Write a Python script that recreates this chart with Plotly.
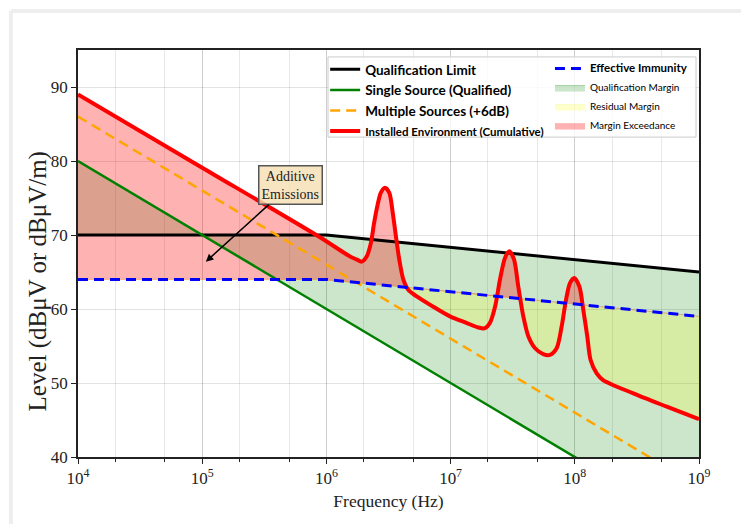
import numpy as np
import plotly.graph_objects as go

# ---------------- data ----------------
limit_freq = [1e4, 1e6, 1e9]
limit_level = [70, 70, 65]

immunity_freq = [1e4, 1e6, 1e9]
immunity_level = [64, 64, 59]

single_freq = [1e4, 1e9]
single_level = [80, 30]

multiple_freq = [1e4, 1e9]
multiple_level = [86, 36]

installed_freq = [1.0e4, 1.0e5, 8.87e5, 1.55e6, 1.75e6, 1.92e6, 2.11e6, 2.28e6,
                  2.42e6, 2.57e6, 2.74e6, 2.96e6, 3.21e6, 3.42e6, 3.63e6, 3.86e6,
                  4.16e6, 4.56e6, 5.33e6, 7.26e6, 9.89e6, 1.35e7, 1.67e7, 1.89e7,
                  2.07e7, 2.28e7, 2.50e7, 2.74e7, 2.97e7, 3.24e7, 3.51e7, 3.85e7,
                  4.23e7, 4.79e7, 5.57e7, 6.31e7, 7.14e7, 7.83e7, 8.49e7, 9.14e7,
                  9.91e7, 1.09e8, 1.17e8, 1.26e8, 1.34e8, 1.50e8, 1.69e8, 2.96e8,
                  5.50e8, 1.0e9]
installed_level = [89.0, 79.1, 69.7, 67.1, 66.7, 66.4, 67.1, 68.9,
                   71.6, 73.9, 75.7, 76.4, 75.7, 73.0, 69.8, 66.7,
                   64.0, 62.6, 61.7, 60.3, 59.0, 58.1, 57.5, 57.4,
                   58.1, 60.3, 64.0, 66.9, 67.8, 66.7, 63.0, 59.0,
                   56.3, 54.7, 53.9, 53.8, 54.7, 57.6, 61.2, 63.5,
                   64.2, 63.0, 59.9, 56.3, 53.1, 51.3, 50.4, 48.6,
                   46.8, 45.1]

x_tick_vals = [1e4, 1e5, 1e6, 1e7, 1e8, 1e9]
x_tick_text = ["10<sup>4</sup>", "10<sup>5</sup>", "10<sup>6</sup>",
               "10<sup>7</sup>", "10<sup>8</sup>", "10<sup>9</sup>"]
y_tick_vals = [40, 50, 60, 70, 80, 90]

# ---------------- derived fill boundaries ----------------
grid = np.logspace(4, 9, 2000)
lg = np.log10(grid)
R = np.interp(lg, np.log10(installed_freq), installed_level)
B = np.interp(lg, np.log10(immunity_freq), immunity_level)
upper_ex = np.maximum(R, B)
lower_res = np.minimum(R, B)
gx = np.concatenate([grid, grid[::-1]])

fig = go.Figure()

# Qualification margin (between single source and limit)
fig.add_trace(go.Scatter(x=single_freq, y=single_level, mode="lines",
                         line=dict(width=0), showlegend=False, hoverinfo="skip"))
fig.add_trace(go.Scatter(x=limit_freq, y=limit_level, mode="lines", fill="tonexty",
                         fillcolor="rgba(0,128,0,0.2)",
                         line=dict(width=1, color="rgba(0,128,0,0.3)"),
                         name="Qualification Margin",
                         legend="legend2", legendrank=2, hoverinfo="skip"))
# Residual margin (installed below immunity)
fig.add_trace(go.Scatter(x=gx, y=np.concatenate([B, lower_res[::-1]]), mode="lines",
                         fill="toself", fillcolor="rgba(255,255,0,0.2)",
                         line=dict(width=0.5, color="rgba(230,230,0,0.3)"),
                         name="Residual Margin",
                         legend="legend2", legendrank=3, hoverinfo="skip"))
# Margin exceedance (installed above immunity)
fig.add_trace(go.Scatter(x=gx, y=np.concatenate([upper_ex, B[::-1]]), mode="lines",
                         fill="toself", fillcolor="rgba(255,0,0,0.3)",
                         line=dict(width=0.5, color="rgba(255,0,0,0.3)"),
                         name="Margin Exceedance",
                         legend="legend2", legendrank=4, hoverinfo="skip"))

# Lines
fig.add_trace(go.Scatter(x=limit_freq, y=limit_level, mode="lines",
                         line=dict(color="black", width=3),
                         name="<b>Qualification Limit</b>", legend="legend", legendrank=1))
fig.add_trace(go.Scatter(x=single_freq, y=single_level, mode="lines",
                         line=dict(color="green", width=2.5),
                         name="<b>Single Source (Qualified)</b>", legend="legend", legendrank=2))
fig.add_trace(go.Scatter(x=multiple_freq, y=multiple_level, mode="lines",
                         line=dict(color="orange", width=2.5, dash="10px,6px"),
                         name="<b>Multiple Sources (+6dB)</b>", legend="legend", legendrank=3))
fig.add_trace(go.Scatter(x=installed_freq, y=installed_level, mode="lines",
                         line=dict(color="red", width=4, shape="spline", smoothing=0.8),
                         name="<b><span style='font-size:11.5px'>Installed Environment (Cumulative)</span></b>",
                         legend="legend", legendrank=4))
fig.add_trace(go.Scatter(x=immunity_freq, y=immunity_level, mode="lines",
                         line=dict(color="blue", width=3, dash="10px,6px"),
                         name="<b><span style='font-size:11.5px'>Effective Immunity</span></b>",
                         legend="legend2", legendrank=1))

axis_font = dict(family="Liberation Serif", size=17, color="#222")

fig.update_xaxes(type="log", range=[4, 9], tickvals=x_tick_vals, ticktext=x_tick_text,
                 tickfont=axis_font, ticks="outside", ticklen=5, tickwidth=1.2, tickcolor="#222",
                 showline=True, linecolor="#222", linewidth=1.5, mirror=True,
                 showgrid=True, gridcolor="rgba(0,0,0,0.11)", gridwidth=1,
                 minor=dict(ticks="outside", ticklen=3, tickcolor="#222", showgrid=True,
                            gridcolor="rgba(0,0,0,0.09)"),
                 title=dict(text="Frequency (Hz)", font=dict(family="Liberation Serif",
                            size=17.5, color="#222"), standoff=8),
                 zeroline=False)
fig.update_yaxes(range=[40, 95], tickvals=y_tick_vals, tickfont=axis_font,
                 ticks="outside", ticklen=5, tickwidth=1.2, tickcolor="#222",
                 showline=True, linecolor="#222", linewidth=1.5, mirror=True,
                 showgrid=True, gridcolor="rgba(0,0,0,0.11)",
                 zeroline=False)

# y axis label (placed as in the reference, slightly below the axis centre)
fig.add_annotation(x=-0.064, y=0.432, xref="paper", yref="paper",
                   text="Level (dBμV or dBμV/m)", textangle=-90, showarrow=False,
                   font=dict(family="Liberation Serif", size=25, color="#222"),
                   xanchor="center", yanchor="middle")

fig.add_annotation(x=np.log10(1.07e5), y=66.4, xref="x", yref="y",
                   ax=np.log10(5.1e5), ay=76.7, axref="x", ayref="y",
                   text="Additive<br>Emissions", showarrow=True,
                   arrowhead=2, arrowsize=1, arrowwidth=1.5, arrowcolor="black",
                   font=dict(family="Liberation Serif", size=14, color="#222"),
                   bgcolor="rgba(245,222,179,0.8)", bordercolor="#555", borderwidth=1.5,
                   borderpad=2)

# legend frame and outer page frame
fig.add_shape(type="rect", xref="paper", yref="paper", x0=0.4026, x1=0.9952,
              y0=0.786, y1=0.983, fillcolor="rgba(255,255,255,0.8)",
              line=dict(color="#cccccc", width=1), layer="above")
fig.add_shape(type="line", xref="paper", yref="paper", x0=-0.108, x1=-0.108,
              y0=-0.25, y1=1.096, line=dict(color="#eeeeee", width=4))
fig.add_shape(type="line", xref="paper", yref="paper", x0=-0.108, x1=1.2,
              y0=1.096, y1=1.096, line=dict(color="#eeeeee", width=4))

legend_common = dict(bgcolor="rgba(0,0,0,0)", borderwidth=0, xanchor="left",
                     yanchor="top", itemwidth=30, tracegroupgap=0,
                     traceorder="normal")
fig.update_layout(
    width=749, height=524,
    margin=dict(l=70, r=58, t=42, b=75),
    paper_bgcolor="white", plot_bgcolor="white",
    showlegend=True,
    legend=dict(x=0.398, y=0.99, font=dict(family="Lato", size=13.5, color="black"),
                **legend_common),
    legend2=dict(x=0.76, y=0.99, font=dict(family="Lato", size=10, color="black"),
                 **legend_common),
)

fig.write_html("out.html")
